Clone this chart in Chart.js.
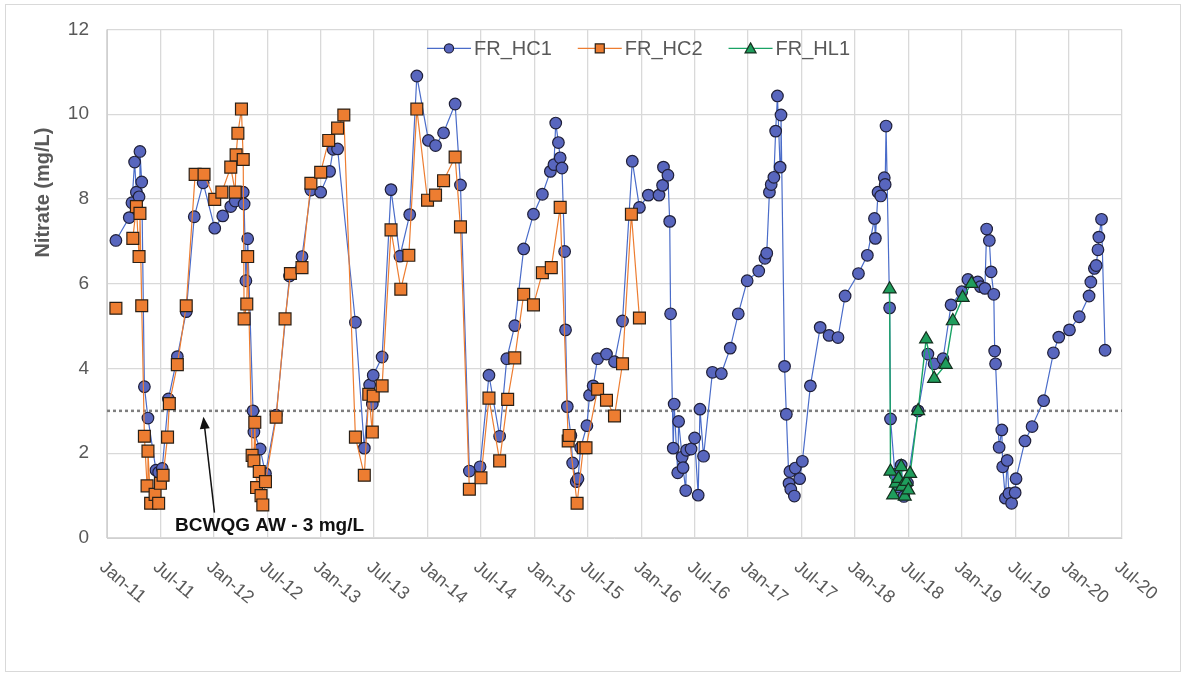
<!DOCTYPE html>
<html>
<head>
<meta charset="utf-8">
<script src="https://cdn.jsdelivr.net/npm/chart.js@4.4.1/dist/chart.umd.min.js"></script>
<style>
  html, body { margin: 0; padding: 0; background: #fff; }
  #wrap { width: 1187px; height: 677px; position: relative; }
</style>
</head>
<body>
<div id="wrap"><canvas id="nitrateChart"></canvas></div>
<script>
// x values are months counted from Jan 2011
const tickLabels = ["Jan-11","Jul-11","Jan-12","Jul-12","Jan-13","Jul-13","Jan-14","Jul-14","Jan-15","Jul-15",
  "Jan-16","Jul-16","Jan-17","Jul-17","Jan-18","Jul-18","Jan-19","Jul-19","Jan-20","Jul-20"]

const hc1Months = [1.0,2.5,2.8,3.1,3.3,3.6,3.7,3.9,4.2,4.6,5.5,5.8,6.2,6.9,7.9,8.9,9.8,10.8,12.1,13.0,13.9,14.4,15.3,15.4,15.6,15.8,
  16.4,16.5,17.2,17.8,19.0,20.5,21.9,22.9,24.0,25.0,25.4,25.9,27.9,28.9,29.5,29.8,29.9,30.9,31.9,32.9,34.0,34.8,36.1,36.9,37.8,39.1,39.7,
  40.7,41.9,42.9,44.1,44.9,45.8,46.8,47.9,48.9,49.8,50.2,50.4,50.7,50.9,51.1,51.4,51.5,51.7,52.1,52.3,52.7,52.9,53.2,53.9,54.2,54.6,55.1,
  56.1,57.0,57.9,59.0,59.8,60.8,62.0,62.4,62.5,63.0,63.2,63.3,63.6,63.7,64.1,64.2,64.6,64.7,65.0,65.1,65.6,66.0,66.4,66.6,67.0,68.0,69.0,
  70.0,70.9,71.9,73.2,73.9,74.1,74.4,74.6,74.9,75.1,75.3,75.6,75.7,76.1,76.3,76.6,76.7,76.8,77.2,77.3,77.8,78.1,79.0,80.1,81.1,82.1,82.9,
  84.4,85.4,86.2,86.3,86.6,86.9,87.3,87.4,87.5,87.9,88.0,88.5,88.9,89.2,89.5,89.9,91.1,92.2,92.9,93.9,94.8,96.0,96.7,97.8,98.1,98.6,98.8,
  99.1,99.3,99.6,99.7,99.8,100.2,100.5,100.6,100.9,101.1,101.3,101.6,102.0,102.1,103.1,103.9,105.2,106.3,106.9,108.1,109.2,110.3,110.5,
  110.9,111.1,111.3,111.4,111.7,112.1]
const hc1Values = [7.02,7.56,7.91,8.87,8.16,8.05,9.12,8.40,3.57,2.83,1.6,1.55,1.64,3.28,4.28,5.34,7.58,8.38,7.31,7.6,7.82,7.95,8.16,7.88,6.07,7.06,
  3.0,2.5,2.1,1.52,2.9,6.18,6.64,8.21,8.16,8.65,9.17,9.18,5.09,2.12,3.61,3.16,3.84,4.27,8.22,6.65,7.63,10.9,9.38,9.26,9.56,10.24,8.33,
  1.58,1.68,3.84,2.4,4.23,5.01,6.82,7.64,8.11,8.65,8.81,9.79,9.33,8.97,8.73,6.76,4.91,3.1,2.42,1.77,1.33,1.4,2.13,2.65,3.37,3.59,4.23,
  4.34,4.16,5.12,8.89,7.8,8.09,8.09,8.32,8.75,8.56,7.47,5.29,2.12,3.16,1.54,2.75,1.91,1.66,1.12,2.07,2.1,2.36,1.01,3.04,1.93,3.91,3.88,
  4.48,5.29,6.07,6.3,6.6,6.72,8.16,8.34,8.51,9.6,10.43,8.75,9.98,4.05,2.92,1.29,1.57,1.15,0.99,1.65,1.4,1.81,3.59,4.97,4.78,4.73,5.71,
  6.24,6.67,7.54,7.07,8.16,8.07,8.5,8.34,9.72,5.43,2.81,1.5,1.2,1.72,0.98,1.3,3.0,4.34,4.11,4.23,5.5,5.81,6.1,6.04,5.93,5.89,7.29,
  7.02,6.28,5.75,4.41,4.11,2.14,2.55,1.68,0.94,1.83,1.05,0.82,1.07,1.4,2.29,2.63,3.24,4.37,4.74,4.91,5.22,5.71,6.04,
  6.36,6.43,6.8,7.1,7.52,4.43]

// null after the first sample: that point stands alone
const hc2Months = [1.0,1.5,2.9,3.3,3.6,3.7,3.9,4.2,4.5,4.6,4.9,5.4,5.8,6.0,6.3,6.8,7.0,7.9,8.9,9.9,10.9,12.1,12.9,13.9,14.4,14.5,14.7,15.1,
  15.3,15.4,15.7,15.8,16.3,16.5,16.6,16.8,17.1,17.3,17.5,17.8,19.0,20.0,20.6,21.9,22.9,24.0,24.9,25.9,26.6,27.9,28.9,29.4,29.8,29.9,30.9,
  31.9,33.0,33.9,34.8,36.0,36.9,37.8,39.1,39.7,40.7,42.0,42.9,44.1,45.0,45.8,46.8,47.9,48.9,49.9,50.9,51.8,51.9,52.8,53.5,53.8,55.1,56.1,
  57.0,57.9,58.9,59.8]
const hc2Values = [5.42,null,7.07,7.82,6.64,7.66,5.48,2.4,1.23,2.05,0.82,1.03,0.82,1.29,1.48,2.38,3.17,4.09,5.48,8.58,8.58,7.99,8.16,8.75,8.16,9.04,9.55,10.12,
  8.93,5.17,5.52,6.64,1.95,1.82,2.73,1.19,1.57,1.0,0.78,1.33,2.85,5.17,6.24,6.38,8.37,8.63,9.38,9.67,9.98,2.38,1.48,3.39,2.5,3.35,3.59,
  7.27,5.87,6.67,10.12,7.97,8.09,8.43,8.99,7.34,1.15,1.42,3.3,1.82,3.27,4.25,5.75,5.5,6.26,6.38,7.8,2.29,2.42,0.82,2.13,2.13,3.51,3.25,
  2.88,4.11,7.64,5.19]

const hl1Months = [87.9,88.0,88.3,88.6,88.9,89.2,89.3,89.6,89.8,90.0,90.2,91.1,92.0,92.9,94.2,95.0,96.1,97.1]
const hl1Values = [5.87,1.57,1.01,1.29,1.40,1.68,1.21,0.98,1.33,1.13,1.52,3.0,4.69,3.76,4.09,5.12,5.67,6.0]

const guideline = 3
const guideText = "BCWQG AW - 3 mg/L"

const FONT = "'Liberation Sans', Arial, sans-serif"
Chart.defaults.font.family = FONT

function toPoints(xs, ys){
  return xs.map((x, i) => ({x: x, y: ys[i]}))
}

// legend swatch: short line with the marker in the middle
function legendIcon(ctx, x, y, ds){
  ctx.strokeStyle = ds.borderColor
  ctx.lineWidth = 1.3
  ctx.beginPath(); ctx.moveTo(x, y); ctx.lineTo(x + 44, y); ctx.stroke()
  ctx.fillStyle = ds.pointBackgroundColor
  ctx.strokeStyle = ds.pointBorderColor
  ctx.lineWidth = 1.2
  const cx = x + 22
  ctx.beginPath()
  if(ds.pointStyle == "circle"){
    ctx.arc(cx, y, 4.6, 0, Math.PI * 2)
  }else if(ds.pointStyle == "rect"){
    ctx.rect(cx - 4.5, y - 4.5, 9, 9)
  }else{
    ctx.moveTo(cx, y - 5.5); ctx.lineTo(cx + 5.5, y + 4.5); ctx.lineTo(cx - 5.5, y + 4.5); ctx.closePath()
  }
  ctx.fill(); ctx.stroke()
}

const decorations = {
  id: "decorations",
  beforeDraw(chart){
    const ctx = chart.ctx
    ctx.save()
    ctx.fillStyle = "#fff"
    ctx.fillRect(0, 0, chart.width, chart.height)
    ctx.strokeStyle = "#d9d9d9"
    ctx.lineWidth = 1
    ctx.strokeRect(5.5, 4.5, 1175, 667)
    ctx.restore()
  },
  afterDraw(chart){
    const ctx = chart.ctx
    const xs = chart.scales.x
    const ys = chart.scales.y
    const area = chart.chartArea
    ctx.save()

    // legend row inside the top of the plot
    ctx.font = "20px " + FONT
    ctx.textBaseline = "middle"
    ctx.textAlign = "left"
    const items = chart.data.datasets.filter(d => d.label)
    const widths = items.map(d => 44 + 3 + ctx.measureText(d.label).width)
    const gap = 26
    const total = widths.reduce((a, b) => a + b, 0) + gap * (items.length - 1)
    let lx = (area.left + area.right) / 2 + 24 - total / 2
    const ly = area.top + 19
    items.forEach((d, i) => {
      legendIcon(ctx, lx, ly, d)
      ctx.fillStyle = "#595959"
      ctx.fillText(d.label, lx + 47, ly + 1)
      lx += widths[i] + gap
    })

    // slanted date labels
    ctx.fillStyle = "#595959"
    ctx.font = "18px " + FONT
    ctx.textAlign = "left"
    ctx.textBaseline = "middle"
    tickLabels.forEach((t, i) => {
      ctx.save()
      ctx.translate(xs.getPixelForValue(i * 6) - 5, area.bottom + 27)
      ctx.rotate(40 * Math.PI / 180)
      ctx.fillText(t, 0, 0)
      ctx.restore()
    })

    // axis title
    ctx.save()
    ctx.translate(area.left - 64, ys.getPixelForValue(8.15))
    ctx.rotate(-Math.PI / 2)
    ctx.font = "bold 20px " + FONT
    ctx.textAlign = "center"
    ctx.fillText("Nitrate (mg/L)", 0, 0)
    ctx.restore()

    // guideline note with arrow
    ctx.fillStyle = "#111"
    ctx.strokeStyle = "#111"
    ctx.font = "bold 19px " + FONT
    ctx.textAlign = "center"
    ctx.fillText(guideText, xs.getPixelForValue(18.26), ys.getPixelForValue(0.29))
    const x0 = xs.getPixelForValue(12.07), y0 = ys.getPixelForValue(0.6)
    const x1 = xs.getPixelForValue(10.83), y1 = ys.getPixelForValue(2.86)
    const a = Math.atan2(y1 - y0, x1 - x0)
    ctx.lineWidth = 1.5
    ctx.beginPath(); ctx.moveTo(x0, y0)
    ctx.lineTo(x1 - 9 * Math.cos(a), y1 - 9 * Math.sin(a)); ctx.stroke()
    ctx.beginPath()
    ctx.moveTo(x1, y1)
    ctx.lineTo(x1 - 12 * Math.cos(a) + 5 * Math.sin(a), y1 - 12 * Math.sin(a) - 5 * Math.cos(a))
    ctx.lineTo(x1 - 12 * Math.cos(a) - 5 * Math.sin(a), y1 - 12 * Math.sin(a) + 5 * Math.cos(a))
    ctx.closePath(); ctx.fill()
    ctx.restore()
  }
}

const nitrateChart = new Chart("nitrateChart", {
  type: "line",
  data: {
    datasets: [{
        label: "FR_HC1",
        data: toPoints(hc1Months, hc1Values),
        borderColor: "#4a6cc9",
        borderWidth: 1.2,
        pointStyle: "circle",
        pointRadius: 5.8,
        pointBackgroundColor: "#5866be",
        pointBorderColor: "#20203a",
        pointBorderWidth: 1.2,
        order: 3
      },{
        label: "FR_HC2",
        data: toPoints(hc2Months, hc2Values),
        borderColor: "#ed7d31",
        borderWidth: 1.2,
        pointStyle: "rect",
        pointRadius: 8.4,
        pointBackgroundColor: "#ed7d31",
        pointBorderColor: "#2b2016",
        pointBorderWidth: 1.2,
        spanGaps: false,
        order: 2
      },{
        label: "FR_HL1",
        data: toPoints(hl1Months, hl1Values),
        borderColor: "#1aa365",
        borderWidth: 1.4,
        pointStyle: "triangle",
        pointRadius: 7.5,
        pointBackgroundColor: "#1f9d5c",
        pointBorderColor: "#15301f",
        pointBorderWidth: 1.2,
        order: 1
      },{
        data: [{x: 0, y: guideline}, {x: 114, y: guideline}],
        borderColor: "#7f7f7f",
        borderWidth: 2.5,
        borderDash: [3, 3],
        pointRadius: 0,
        order: 4
      }
    ]
  },
  options: {
    responsive: true,
    maintainAspectRatio: false,
    animation: false,
    events: [],
    layout: { padding: { left: 0, right: 65, top: 28, bottom: 0 } },
    elements: { line: { tension: 0 } },
    plugins: {
      tooltip: { enabled: false },
      legend: { display: false }
    },
    scales: {
      x: {
        type: "linear",
        min: 0,
        max: 114,
        afterFit: s => { s.height = 139 },
        ticks: { stepSize: 6, display: false },
        grid: { color: "#d9d9d9", lineWidth: 1.3, drawTicks: false },
        border: { color: "#d0d0d0" }
      },
      y: {
        min: 0,
        max: 12,
        afterFit: s => { s.width = 107 },
        ticks: { stepSize: 2, padding: 18, color: "#595959", font: { size: 19 } },
        grid: { color: "#d9d9d9", lineWidth: 1.3, drawTicks: false },
        border: { color: "#d0d0d0" }
      }
    }
  },
  plugins: [decorations]
})
</script>
</body>
</html>
